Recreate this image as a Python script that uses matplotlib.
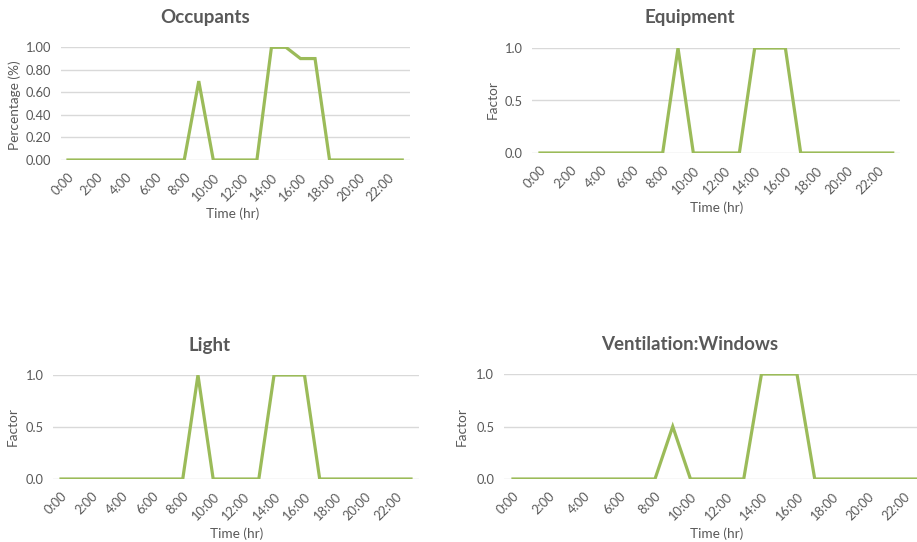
import matplotlib.pyplot as plt

plt.rcParams['font.family'] = ['Lato', 'DejaVu Sans']

hours = list(range(24))
hour_labels = ["%d:00" % h for h in hours]

occupants = [0, 0, 0, 0, 0, 0, 0, 0, 0, 0.7, 0, 0, 0, 0,
             1.0, 1.0, 0.9, 0.9, 0, 0, 0, 0, 0, 0]
equipment = [0, 0, 0, 0, 0, 0, 0, 0, 0, 1.0, 0, 0, 0, 0,
             1.0, 1.0, 1.0, 0, 0, 0, 0, 0, 0, 0]
light = [0, 0, 0, 0, 0, 0, 0, 0, 0, 1.0, 0, 0, 0, 0,
         1.0, 1.0, 1.0, 0, 0, 0, 0, 0, 0, 0]
windows = [0, 0, 0, 0, 0, 0, 0, 0, 0, 0.5, 0, 0, 0, 0,
           1.0, 1.0, 1.0, 0, 0, 0, 0, 0, 0, 0]

GREEN = "#9BBB59"
TXT = "#595959"
GRID = "#D9D9D9"

W, H = 917, 542
fig = plt.figure(figsize=(W / 100, H / 100), dpi=100)


def px_axes(left, right, top, bottom):
    # pixel box -> figure fraction
    return fig.add_axes([left / W, (H - bottom) / H, (right - left) / W, (bottom - top) / H])


def panel(box, values, title, title_xy, ylabel, ylabel_xy, xlabel_xy, yticks, yfmt):
    ax = px_axes(*box)
    ax.plot(hours, values, color=GREEN, lw=2.3, solid_joinstyle="miter", zorder=3)
    ax.set_xlim(-0.5, 23.5)
    ax.set_ylim(0, 1)
    ax.set_yticks(yticks)
    ax.set_yticklabels([yfmt % v for v in yticks])
    ax.set_xticks(hours[::2])
    ax.set_xticklabels(hour_labels[::2], rotation=45, ha="right", rotation_mode="anchor")
    ax.tick_params(axis="both", length=0, colors=TXT, labelsize=9.3)
    ax.tick_params(axis="x", pad=8)
    ax.tick_params(axis="y", pad=7)
    ax.grid(axis="y", color=GRID, lw=1)
    ax.set_axisbelow(True)
    for s in ax.spines.values():
        s.set_visible(False)
    ax.patch.set_alpha(0)
    fig.text(title_xy[0] / W, 1 - title_xy[1] / H, title, ha="center", va="center",
             fontsize=13.5, fontweight="bold", color=TXT)
    fig.text(ylabel_xy[0] / W, 1 - ylabel_xy[1] / H, ylabel, ha="center", va="center",
             rotation=90, fontsize=9.8, color=TXT)
    fig.text(xlabel_xy[0] / W, 1 - xlabel_xy[1] / H, "Time (hr)", ha="center", va="center",
             fontsize=9.8, color=TXT)
    return ax


pct_ticks = [0, 0.2, 0.4, 0.6, 0.8, 1.0]
fac_ticks = [0, 0.5, 1.0]

panel((60.7, 409.5, 47.3, 160), occupants, "Occupants", (205, 18),
      "Percentage (%)", (15, 105), (233, 214), pct_ticks, "%.2f")
panel((532.3, 900.4, 48, 153), equipment, "Equipment", (690, 18),
      "Factor", (493, 100), (717, 208), fac_ticks, "%.1f")
panel((53.4, 418.6, 375, 479), light, "Light", (210, 345),
      "Factor", (13, 427), (237, 534), fac_ticks, "%.1f")
panel((504.1, 930.1, 374, 479), windows, "Ventilation:Windows", (690, 345),
      "Factor", (462, 427), (717, 534), fac_ticks, "%.1f")

fig.savefig("out.png", dpi=100)
